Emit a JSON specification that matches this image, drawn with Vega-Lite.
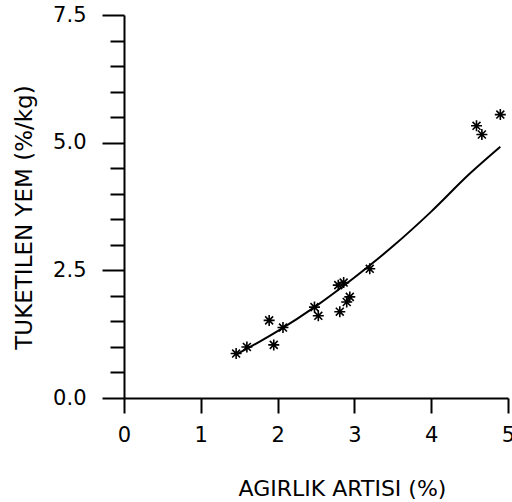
{
  "$schema": "https://vega.github.io/schema/vega-lite/v6.json",
  "width": 384,
  "height": 383,
  "autosize": "none",
  "padding": {"left": 124, "top": 15, "right": 4, "bottom": 104},
  "background": "white",
  "config": {
    "view": {"stroke": null},
    "font": "DejaVu Sans",
    "axis": {"grid": false, "domainColor": "black", "tickColor": "black", "labelColor": "black", "titleColor": "black", "labelFont": "DejaVu Sans", "titleFont": "DejaVu Sans", "labelFontWeight": "normal", "titleFontWeight": "normal"}
  },
  "datasets": {
    "obs": [
      {"w": 1.46, "f": 0.87},
      {"w": 1.60, "f": 1.00},
      {"w": 1.89, "f": 1.52},
      {"w": 1.95, "f": 1.04},
      {"w": 2.07, "f": 1.38},
      {"w": 2.48, "f": 1.78},
      {"w": 2.53, "f": 1.61},
      {"w": 2.79, "f": 2.21},
      {"w": 2.86, "f": 2.26},
      {"w": 2.81, "f": 1.69},
      {"w": 2.90, "f": 1.88},
      {"w": 2.94, "f": 1.98},
      {"w": 3.20, "f": 2.53},
      {"w": 4.59, "f": 5.33},
      {"w": 4.66, "f": 5.16},
      {"w": 4.90, "f": 5.55}
    ],
    "fit": [
      {"w": 1.46, "f": 0.85},
      {"w": 1.75, "f": 1.09},
      {"w": 2.0, "f": 1.31},
      {"w": 2.5, "f": 1.80},
      {"w": 3.0, "f": 2.36},
      {"w": 3.5, "f": 2.97},
      {"w": 4.0, "f": 3.65},
      {"w": 4.5, "f": 4.39},
      {"w": 4.9, "f": 4.92}
    ]
  },
  "layer": [
    {
      "data": {"name": "obs"},
      "mark": {
        "type": "point",
        "shape": "M0,-1L0,1M-1,0L1,0M-0.72,-0.72L0.72,0.72M-0.72,0.72L0.72,-0.72",
        "filled": false,
        "stroke": "black",
        "strokeWidth": 1.6,
        "size": 121,
        "opacity": 1
      },
      "encoding": {
        "x": {
          "field": "w", "type": "quantitative",
          "scale": {"domain": [0, 5], "nice": false, "zero": false},
          "axis": {
            "values": [0, 1, 2, 3, 4, 5],
            "format": "d",
            "tickSize": 15, "tickWidth": 2, "domainWidth": 2,
            "labelFontSize": 21, "labelPadding": 11,
            "labelFlush": false,
            "title": "AGIRLIK ARTISI (%)",
            "titleFontSize": 22,
            "titleX": 218, "titleY": 97, "titleBaseline": "alphabetic", "titleAlign": "center"
          }
        },
        "y": {
          "field": "f", "type": "quantitative",
          "scale": {"domain": [0, 7.5], "nice": false, "zero": false},
          "axis": {
            "orient": "left",
            "values": [0, 2.5, 5, 7.5],
            "format": ".1f",
            "tickSize": 22, "tickWidth": 2, "domainWidth": 2,
            "labelFontSize": 21, "labelPadding": 16,
            "labelFlush": false,
            "title": "TUKETILEN YEM (%/kg)",
            "titleFontSize": 23,
            "titleAngle": -90,
            "titleX": -100, "titleY": 202, "titleBaseline": "middle", "titleAlign": "center"
          }
        }
      }
    },
    {
      "data": {"name": "fit"},
      "mark": {"type": "line", "color": "black", "strokeWidth": 2, "interpolate": "monotone"},
      "encoding": {
        "x": {"field": "w", "type": "quantitative"},
        "y": {
          "field": "f", "type": "quantitative",
          "axis": {
            "orient": "left",
            "values": [0.5, 1, 1.5, 2, 3, 3.5, 4, 4.5, 5.5, 6, 6.5, 7],
            "labels": false,
            "domain": false,
            "tickSize": 14, "tickWidth": 2,
            "title": null
          }
        }
      }
    }
  ],
  "resolve": {"scale": {"y": "shared", "x": "shared"}, "axis": {"y": "independent"}}
}
